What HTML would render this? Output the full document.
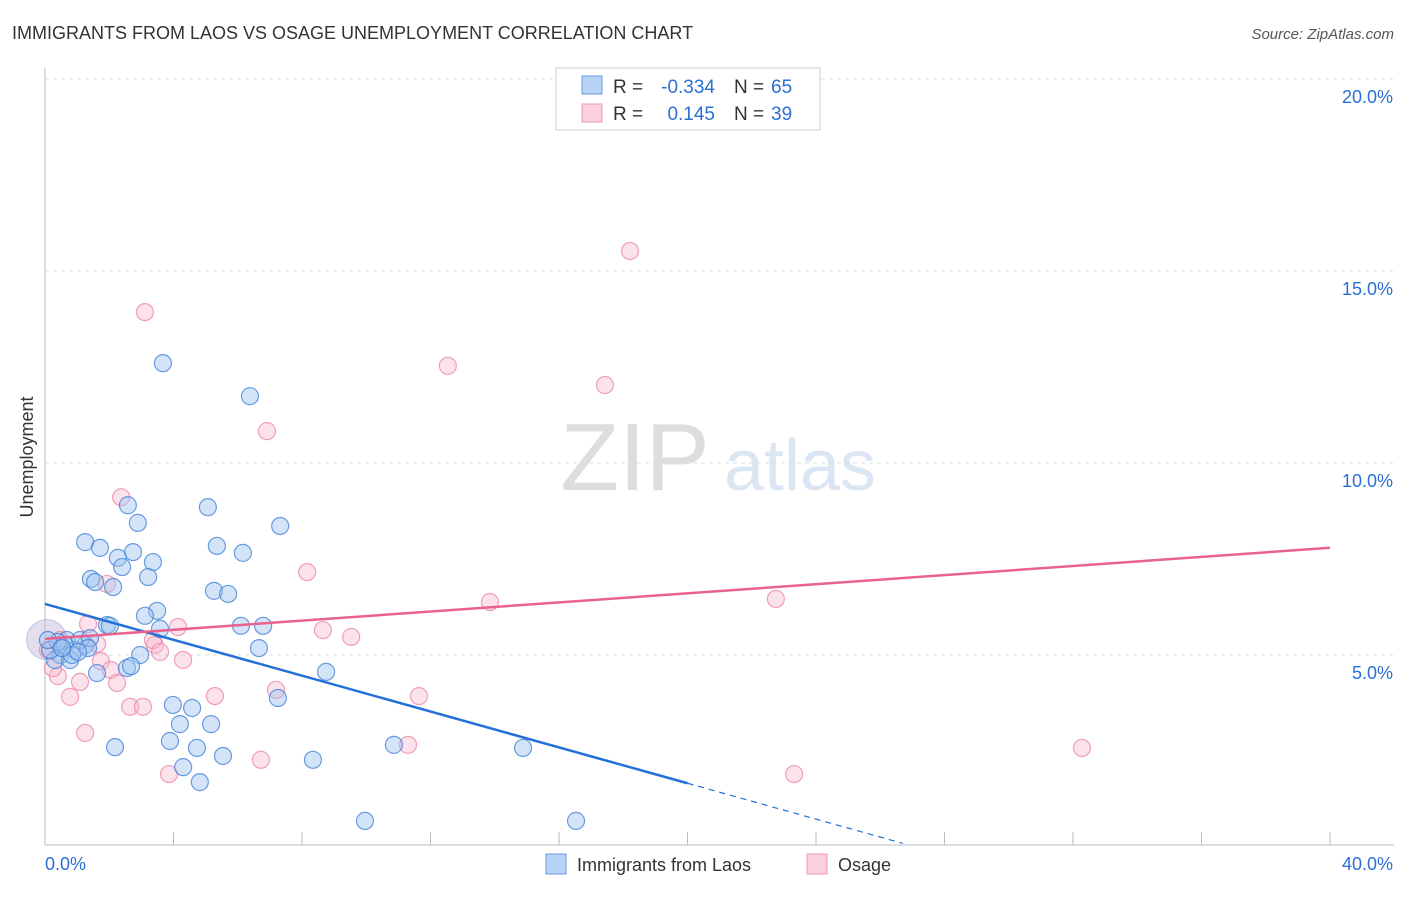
<!DOCTYPE html>
<html><head><meta charset="utf-8"><style>
body{margin:0;background:#fff;font-family:"Liberation Sans",sans-serif}
svg text{font-family:"Liberation Sans",sans-serif}
</style></head><body>
<svg id="c" width="1406" height="892">
<text x="12" y="39" font-size="18" fill="#333">IMMIGRANTS FROM LAOS VS OSAGE UNEMPLOYMENT CORRELATION CHART</text>
<text x="1394" y="39" font-size="15" fill="#555" text-anchor="end" font-style="italic">Source: ZipAtlas.com</text>
<text transform="translate(33,457) rotate(-90)" font-size="18" fill="#333" text-anchor="middle">Unemployment</text>
<g><text x="635" y="490" font-size="96" fill="#ddd" font-family="Liberation Serif" text-anchor="middle">ZIP</text><text x="800" y="490" font-size="72" fill="#dbe6f5" text-anchor="middle">atlas</text></g>
<g id="grid"></g><g id="marks"></g>
<g>
<rect x="556" y="68" width="264" height="62" fill="#fff" stroke="#ccc"/>
<rect x="582" y="76" width="20" height="18" fill="#b8d3f5" stroke="#6a9be0"/>
<rect x="582" y="104" width="20" height="18" fill="#fbcfdc" stroke="#ef9ab5"/>
<text x="613" y="93" font-size="19" fill="#333">R =</text>
<text x="715" y="93" font-size="19" fill="#2a6fd6" text-anchor="end">-0.334</text>
<text x="734" y="93" font-size="19" fill="#333">N =</text>
<text x="771" y="93" font-size="19" fill="#2a6fd6">65</text>
<text x="613" y="120" font-size="19" fill="#333">R =</text>
<text x="715" y="120" font-size="19" fill="#2a6fd6" text-anchor="end">0.145</text>
<text x="734" y="120" font-size="19" fill="#333">N =</text>
<text x="771" y="120" font-size="19" fill="#2a6fd6">39</text>
</g>
<g>
<rect x="546" y="854" width="20" height="20" fill="#b8d3f5" stroke="#6a9be0"/><text x="577" y="871" font-size="18" fill="#333">Immigrants from Laos</text>
<rect x="807" y="854" width="20" height="20" fill="#fbcfdc" stroke="#ef9ab5"/><text x="838" y="871" font-size="18" fill="#333">Osage</text>
</g>
</svg>
<script>
const yTicks=[5,10,15,20];
const xTickLabels=["0.0%","40.0%"];
const laosX=[3.67,6.38,2.58,5.07,2.89,7.32,1.25,1.71,5.35,2.74,6.16,2.27,3.36,2.40,3.21,1.43,1.56,2.12,5.26,5.70,3.49,3.11,1.93,2.02,3.58,6.10,6.79,6.66,2.96,8.75,1.62,2.55,2.68,3.98,4.58,4.20,5.17,3.89,2.18,4.73,5.54,4.30,4.82,8.34,7.25,10.86,14.88,9.96,16.53,0.68,0.93,1.25,0.47,0.31,0.78,0.16,1.09,1.40,0.62,0.84,1.34,1.03,0.40,0.09,0.53];
const laosY=[12.60,11.74,8.90,8.85,8.44,8.36,7.94,7.79,7.84,7.68,7.66,7.53,7.42,7.29,7.03,6.98,6.90,6.77,6.67,6.59,6.15,6.02,5.78,5.76,5.68,5.76,5.76,5.18,5.00,4.56,4.53,4.66,4.71,3.70,3.62,3.20,3.20,2.76,2.60,2.58,2.37,2.08,1.69,2.27,3.88,2.66,2.58,0.68,0.68,5.39,5.13,5.26,5.00,4.87,4.87,5.13,5.39,5.44,5.26,5.00,5.18,5.08,5.34,5.39,5.18];
const osageX=[3.11,18.21,12.54,17.43,6.91,2.37,8.16,13.85,22.75,1.93,8.65,9.53,4.14,1.34,1.62,3.42,3.36,3.58,4.30,1.74,2.05,0.40,1.09,2.24,0.78,5.29,7.19,11.64,2.65,3.05,1.25,11.30,32.28,3.86,6.72,23.32,0.25,0.47,0.09];
const osageY=[13.93,15.52,12.53,12.03,10.83,9.11,7.16,6.38,6.46,6.85,5.65,5.47,5.73,5.81,5.29,5.26,5.39,5.08,4.87,4.84,4.61,4.45,4.30,4.27,3.91,3.93,4.09,3.93,3.65,3.65,2.97,2.66,2.58,1.90,2.27,1.90,4.66,5.39,5.13];
const laosTrend=[6.33,-0.2335];
const osageTrend=[5.42,0.0593];
const X=v=>45+v*32.125, Y=v=>847-v*38.4;
const NS="http://www.w3.org/2000/svg";
function mk(t,a,p){const e=document.createElementNS(NS,t);for(const k in a)e.setAttribute(k,a[k]);p.appendChild(e);return e;}
const g=document.getElementById('grid'), m=document.getElementById('marks');
mk('line',{x1:45,y1:845,x2:1394,y2:845,stroke:'#bbb'},g);
mk('line',{x1:45,y1:68,x2:45,y2:845,stroke:'#bbb'},g);
for(let i=0;i<=10;i++){const l=mk('line',{x1:X(i*4),y1:832,x2:X(i*4),y2:845,stroke:'#bbb'},g);

}
yTicks.forEach(t=>{const l=mk('line',{x1:45,y1:Y(t),x2:1394,y2:Y(t),stroke:'#ddd','stroke-dasharray':'4 4'},g);


const tx=mk('text',{x:1393,y:Y(t)+24,'font-size':18,fill:'#2a6fd6','text-anchor':'end'},g);tx.textContent=t.toFixed(1)+'%';

});
xTickLabels.forEach((s,i)=>{const tx=mk('text',{x:i?1393:45,y:870,'font-size':18,fill:'#2a6fd6','text-anchor':i?'end':'start'},g);tx.textContent=s;

});
const big=mk('circle',{cx:X(0.05),cy:Y(5.4),r:20,fill:'rgba(200,190,220,0.5)',stroke:'rgba(150,170,220,0.6)'},m);


function pts(xs,ys,fill,stroke,name){xs.forEach((x,i)=>{const c=mk('circle',{cx:X(x),cy:Y(ys[i]),r:8.5,fill:fill,stroke:stroke,'stroke-width':1.2},m);

});}
pts(osageX,osageY,'rgba(248,185,205,0.4)','rgba(235,130,165,0.75)','osage-point');
pts(laosX,laosY,'rgba(160,195,240,0.45)','rgba(60,125,215,0.75)','laos-point');
const xEnd=20, xDashEnd=26.7;
const bl=mk('line',{x1:X(0),y1:Y(laosTrend[0]),x2:X(xEnd),y2:Y(laosTrend[0]+laosTrend[1]*xEnd),stroke:'#2370d8','stroke-width':2.5},m);


const bd=mk('line',{x1:X(xEnd),y1:Y(laosTrend[0]+laosTrend[1]*xEnd),x2:X(xDashEnd),y2:Y(laosTrend[0]+laosTrend[1]*xDashEnd),stroke:'#2370d8','stroke-width':1.2,'stroke-dasharray':'6 5'},m);


const pl=mk('line',{x1:X(0),y1:Y(osageTrend[0]),x2:X(40),y2:Y(osageTrend[0]+osageTrend[1]*40),stroke:'#e8628f','stroke-width':2.5},m);


</script>
</body></html>
